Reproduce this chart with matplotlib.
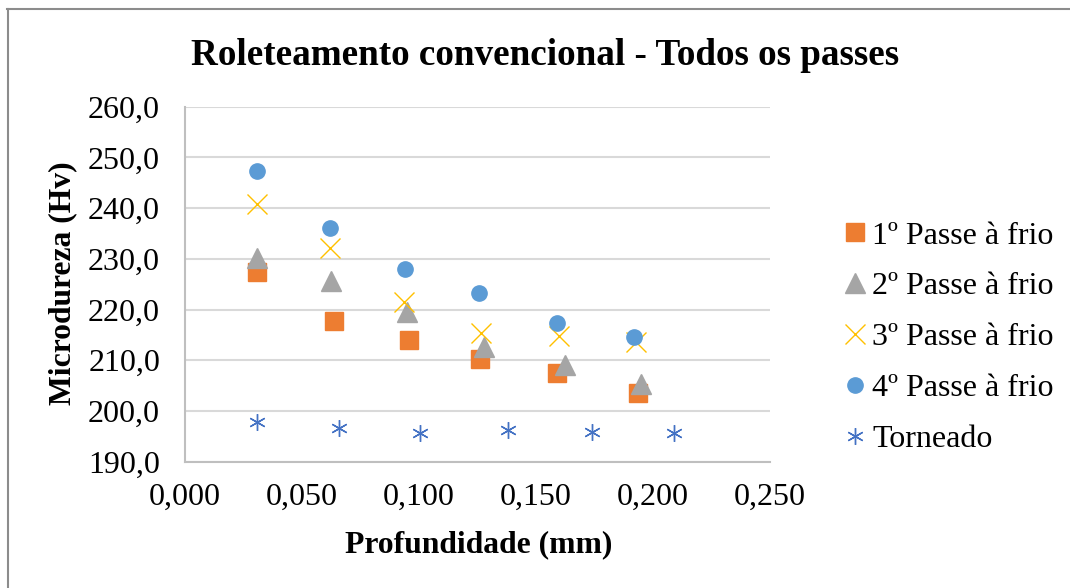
import matplotlib
matplotlib.use("Agg")
import matplotlib.pyplot as plt
from matplotlib.lines import Line2D
from matplotlib.ticker import FuncFormatter

plt.rcParams['font.family'] = ['Liberation Serif', 'DejaVu Serif']

# Depth (mm) and microhardness (Hv) for each rolling pass
depth_p1 = [0.0306, 0.0635, 0.0959, 0.1260, 0.1588, 0.1937]
hv_p1 = [227.4, 217.8, 214.0, 210.2, 207.4, 203.6]

depth_p2 = [0.0306, 0.0625, 0.0947, 0.1278, 0.1624, 0.1949]
hv_p2 = [230.2, 225.6, 219.6, 212.6, 209.1, 205.3]

depth_p3 = [0.0306, 0.0618, 0.0936, 0.1265, 0.1600, 0.1926]
hv_p3 = [240.8, 232.1, 221.4, 215.3, 214.7, 213.5]

depth_p4 = [0.0306, 0.0618, 0.0940, 0.1258, 0.1591, 0.1920]
hv_p4 = [247.4, 236.1, 228.0, 223.2, 217.3, 214.5]

depth_turned = [0.0306, 0.0658, 0.1006, 0.1382, 0.1738, 0.2090]
hv_turned = [197.9, 196.7, 195.6, 196.2, 195.8, 195.6]

labels = ['1º Passe à frio', '2º Passe à frio', '3º Passe à frio',
          '4º Passe à frio', 'Torneado']

fig = plt.figure(figsize=(10.7, 5.88), dpi=100)
ax = fig.add_axes([0.1729, 0.2148, 0.7196 - 0.1729, 0.8187 - 0.2148])

ax.plot(depth_p1, hv_p1, ls='none', marker='s', ms=13.5, color='#ED7D31',
        mec='#ED7D31', label=labels[0], zorder=3)
ax.plot(depth_p2, hv_p2, ls='none', marker='^', ms=14.5, color='#A5A5A5',
        mec='#A5A5A5', label=labels[1], zorder=3)
ax.plot(depth_p3, hv_p3, ls='none', marker='x', ms=14, mew=1.0,
        color='#FFC000', label=labels[2], zorder=3)
ax.plot(depth_p4, hv_p4, ls='none', marker='o', ms=11, color='#5B9BD5',
        mec='#5B9BD5', label=labels[3], zorder=3)
ax.plot(depth_turned, hv_turned, ls='none', marker=(6, 2, 0), ms=12, mew=1.0,
        color='#4472C4', label=labels[4], zorder=3)

ax.set_xlim(0, 0.25)
ax.set_ylim(190, 260)
ax.set_xticks([0, 0.05, 0.10, 0.15, 0.20, 0.25])
ax.set_yticks(range(190, 261, 10))
ax.xaxis.set_major_formatter(FuncFormatter(lambda v, p: f"{v:.3f}".replace('.', ',')))
ax.yaxis.set_major_formatter(FuncFormatter(lambda v, p: f"{v:.1f}".replace('.', ',')))
ax.tick_params(axis='both', length=0, labelsize=23)
ax.tick_params(axis='y', pad=18)
ax.tick_params(axis='x', pad=15)

ax.grid(axis='y', color='#D9D9D9', lw=1.5)
ax.set_axisbelow(True)
for side in ('top', 'right'):
    ax.spines[side].set_visible(False)
for side in ('left', 'bottom'):
    ax.spines[side].set_color('#BFBFBF')
    ax.spines[side].set_linewidth(1.5)

fig.text(0.509, 0.906, 'Roleteamento convencional - Todos os passes',
         ha='center', va='center', fontsize=26.7, fontweight='bold')
fig.text(0.447, 0.073, 'Profundidade (mm)', ha='center', va='center',
         fontsize=22.8, fontweight='bold')
fig.text(0.059, 0.519, 'Microdureza (Hv)', ha='center', va='center',
         fontsize=22.8, fontweight='bold', rotation=90)

leg = fig.legend(loc='center left', bbox_to_anchor=(0.772, 0.426), frameon=False,
                 fontsize=23, handletextpad=0.05, labelspacing=0.67,
                 handlelength=1.0, borderaxespad=0)

# chart area border (top and left edges)
fig.add_artist(Line2D([0.007, 1.0], [1 - 9 / 588, 1 - 9 / 588], color='#8C8C8C',
                      lw=1.5, transform=fig.transFigure))
fig.add_artist(Line2D([7.5 / 1070, 7.5 / 1070], [0, 1 - 9 / 588], color='#8C8C8C',
                      lw=1.5, transform=fig.transFigure))

fig.savefig('out.png', dpi=100, facecolor='white')
